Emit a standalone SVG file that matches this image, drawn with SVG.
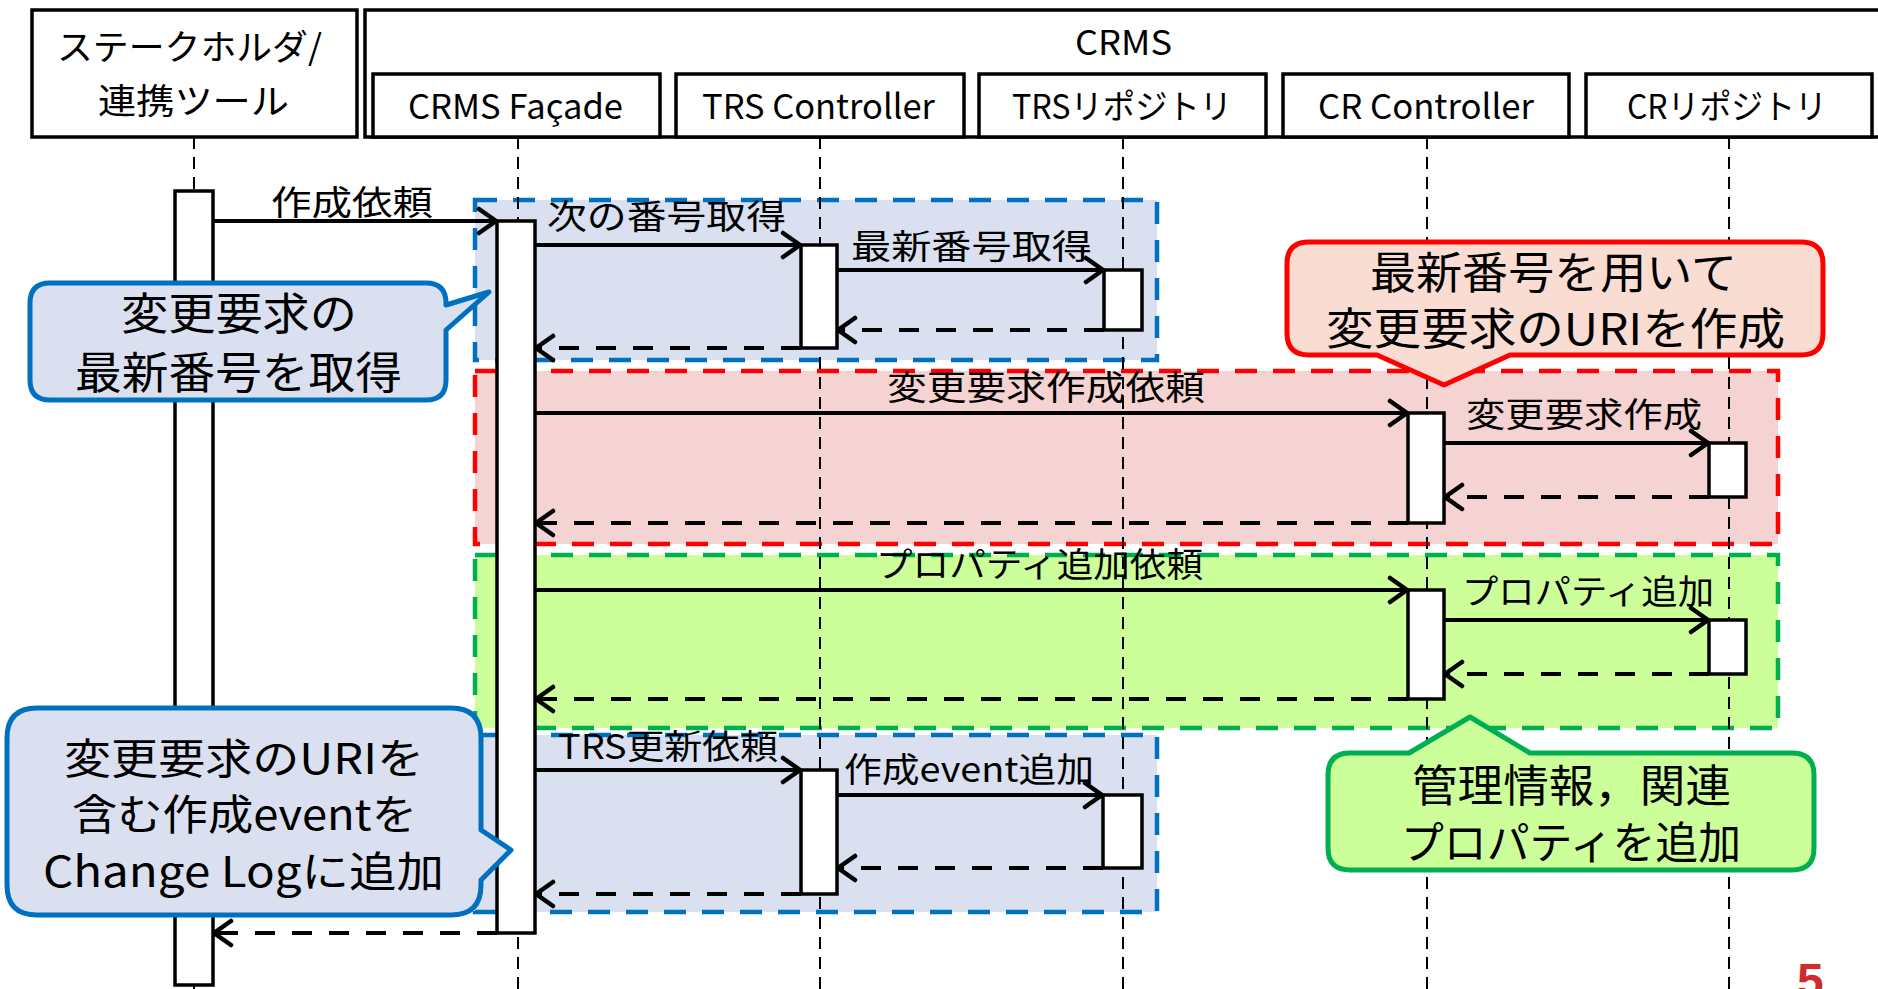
<svg xmlns="http://www.w3.org/2000/svg" width="1878" height="989" viewBox="0 0 1878 989">
  <defs>
    <style>
      text { font-family: "Noto Sans CJK JP", "Noto Sans", sans-serif; fill: #000; }
      .hdr { font-size: 34px; }
      .hdrj { font-size: 35px; }
      .msg { font-size: 34px; }
      .note { font-size: 44px; }
      .note2 { font-size: 42px; }
      .box { fill: #fff; stroke: #000; stroke-width: 3.5; }
      .act { fill: #fff; stroke: #000; stroke-width: 3.5; }
      .life { fill: none; stroke: #000; stroke-width: 2; stroke-dasharray: 12 8; }
      .call { fill: none; stroke: #000; stroke-width: 4; marker-end: url(#head); }
      .ret { fill: none; stroke: #000; stroke-width: 4; stroke-dasharray: 20 17; marker-end: url(#head); }
      .frag-blue { fill: #DAE0F0; stroke: #0070C0; stroke-width: 4.5; stroke-dasharray: 22 16; }
      .frag-red { fill: #F5D3D3; stroke: #FF0000; stroke-width: 4.5; stroke-dasharray: 22 16; }
      .frag-green { fill: #CCFF99; stroke: #00B050; stroke-width: 4.5; stroke-dasharray: 22 16; }
      .note-blue { fill: #DAE0F0; stroke: #0070C0; stroke-width: 5; stroke-linejoin: round; }
      .note-red { fill: #F9DCD2; stroke: #FF0000; stroke-width: 5; stroke-linejoin: round; }
      .note-green { fill: #CCFF99; stroke: #00B050; stroke-width: 5; stroke-linejoin: round; }
    </style>
    <marker id="head" viewBox="-22 -15 26 30" refX="1" refY="0" markerWidth="26" markerHeight="30" markerUnits="userSpaceOnUse" orient="auto">
      <path d="M-17,-12 L0,0 L-17,12" fill="none" stroke="#000" stroke-width="4.5" stroke-linecap="round" stroke-linejoin="miter"/>
    </marker>
  </defs>

  <rect width="1878" height="989" fill="#fff"/>

  <!-- combined fragments -->
  <g id="fragments">
    <rect id="frag-latest-number" class="frag-blue" x="475" y="200" width="682" height="160"/>
    <rect id="frag-create-request" class="frag-red" x="475" y="371" width="1303" height="173"/>
    <rect id="frag-add-property" class="frag-green" x="475" y="555" width="1303" height="173"/>
    <rect id="frag-trs-update" class="frag-blue" x="475" y="735" width="682" height="177"/>
  </g>

  <!-- participants -->
  <g id="stakeholder">
    <rect class="box" x="32" y="10" width="325" height="127"/>
    <text class="hdrj" x="57" y="60" textLength="265" lengthAdjust="spacingAndGlyphs">ステークホルダ/</text>
    <text class="hdrj" x="98" y="114" textLength="191" lengthAdjust="spacingAndGlyphs">連携ツール</text>
  </g>
  <g id="crms">
    <rect class="box" x="365" y="10" width="1520" height="127"/>
    <text class="hdr" x="1075" y="55" textLength="97" lengthAdjust="spacingAndGlyphs">CRMS</text>
  </g>
  <g id="crms-facade">
    <rect class="box" x="373" y="74" width="287" height="63"/>
    <text class="hdr" x="408" y="119" textLength="215" lengthAdjust="spacingAndGlyphs">CRMS Façade</text>
  </g>
  <g id="trs-controller">
    <rect class="box" x="676" y="74" width="288" height="63"/>
    <text class="hdr" x="702" y="119" textLength="233" lengthAdjust="spacingAndGlyphs">TRS Controller</text>
  </g>
  <g id="trs-repository">
    <rect class="box" x="979" y="74" width="287" height="63"/>
    <text class="hdr" x="1012" y="119" textLength="220" lengthAdjust="spacingAndGlyphs">TRSリポジトリ</text>
  </g>
  <g id="cr-controller">
    <rect class="box" x="1283" y="74" width="286" height="63"/>
    <text class="hdr" x="1318" y="119" textLength="216" lengthAdjust="spacingAndGlyphs">CR Controller</text>
  </g>
  <g id="cr-repository">
    <rect class="box" x="1586" y="74" width="286" height="63"/>
    <text class="hdr" x="1627" y="119" textLength="200" lengthAdjust="spacingAndGlyphs">CRリポジトリ</text>
  </g>

  <!-- lifelines and messages -->
  <g id="connectors">
    <path class="life" d="M194,137 V989"/>
    <path class="life" d="M518,137 V989"/>
    <path class="life" d="M820,137 V989"/>
    <path class="life" d="M1123,137 V989"/>
    <path class="life" d="M1427,137 V989"/>
    <path class="life" d="M1729,137 V989"/>

    <path class="call" d="M213,221 H497"/>
    <path class="call" d="M535,245 H801"/>
    <path class="call" d="M837,270 H1104"/>
    <path class="ret" d="M1104,330 H837"/>
    <path class="ret" d="M801,348 H535"/>

    <path class="call" d="M535,413 H1408"/>
    <path class="call" d="M1444,443 H1709"/>
    <path class="ret" d="M1709,497 H1444"/>
    <path class="ret" d="M1408,523 H535"/>

    <path class="call" d="M535,590 H1408"/>
    <path class="call" d="M1444,620 H1709"/>
    <path class="ret" d="M1709,674 H1444"/>
    <path class="ret" d="M1408,699 H535"/>

    <path class="call" d="M535,770 H801"/>
    <path class="call" d="M837,795 H1103"/>
    <path class="ret" d="M1103,868 H837"/>
    <path class="ret" d="M801,894 H535"/>

    <path class="ret" d="M497,933 H213"/>

    <text class="msg" x="271" y="215" textLength="162" lengthAdjust="spacingAndGlyphs">作成依頼</text>
    <text class="msg" x="547" y="229" textLength="239" lengthAdjust="spacingAndGlyphs">次の番号取得</text>
    <text class="msg" x="851" y="259" textLength="241" lengthAdjust="spacingAndGlyphs">最新番号取得</text>
    <text class="msg" x="887" y="400" textLength="318" lengthAdjust="spacingAndGlyphs">変更要求作成依頼</text>
    <text class="msg" x="1466" y="427" textLength="236" lengthAdjust="spacingAndGlyphs">変更要求作成</text>
    <text class="msg" x="876" y="577" textLength="327" lengthAdjust="spacingAndGlyphs">プロパティ追加依頼</text>
    <text class="msg" x="1462" y="604" textLength="252" lengthAdjust="spacingAndGlyphs">プロパティ追加</text>
    <text class="msg" x="558" y="759" textLength="220" lengthAdjust="spacingAndGlyphs">TRS更新依頼</text>
    <text class="msg" x="844" y="782" textLength="250" lengthAdjust="spacingAndGlyphs">作成event追加</text>
  </g>

  <!-- activation bars -->
  <g id="activations">
    <rect class="act" x="175" y="191" width="38" height="794"/>
    <rect class="act" x="497" y="221" width="38" height="712"/>
    <rect class="act" x="801" y="245" width="36" height="103"/>
    <rect class="act" x="1104" y="270" width="38" height="60"/>
    <rect class="act" x="1408" y="413" width="36" height="110"/>
    <rect class="act" x="1709" y="443" width="37" height="54"/>
    <rect class="act" x="1408" y="590" width="36" height="109"/>
    <rect class="act" x="1709" y="620" width="37" height="54"/>
    <rect class="act" x="801" y="770" width="36" height="124"/>
    <rect class="act" x="1103" y="795" width="39" height="73"/>
  </g>

  <!-- callouts -->
  <g id="note-latest-number">
    <path class="note-blue" d="M50,283 H426 Q446,283 446,303 V305 L489,292 L446,330 V380 Q446,400 426,400 H50 Q30,400 30,380 V303 Q30,283 50,283 Z"/>
    <text class="note" x="121" y="330" textLength="236" lengthAdjust="spacingAndGlyphs">変更要求の</text>
    <text class="note" x="75" y="389" textLength="327" lengthAdjust="spacingAndGlyphs">最新番号を取得</text>
  </g>
  <g id="note-create-uri">
    <path class="note-red" d="M1309,242 H1801 Q1823,242 1823,264 V333 Q1823,355 1801,355 H1510 L1444,385 L1377,355 H1309 Q1287,355 1287,333 V264 Q1287,242 1309,242 Z"/>
    <text class="note" x="1370" y="289" textLength="367" lengthAdjust="spacingAndGlyphs">最新番号を用いて</text>
    <text class="note" x="1326" y="345" textLength="459" lengthAdjust="spacingAndGlyphs">変更要求のURIを作成</text>
  </g>
  <g id="note-add-property">
    <path class="note-green" d="M1350,753 H1409 L1470,717 L1530,753 H1792 Q1814,753 1814,775 V848 Q1814,870 1792,870 H1350 Q1328,870 1328,848 V775 Q1328,753 1350,753 Z"/>
    <text class="note" x="1412" y="802" textLength="319" lengthAdjust="spacingAndGlyphs">管理情報，関連</text>
    <text class="note" x="1401" y="859" textLength="340" lengthAdjust="spacingAndGlyphs">プロパティを追加</text>
  </g>
  <g id="note-change-log">
    <path class="note-blue" d="M37,708 H451 Q481,708 481,738 V830 L511,850 L481,880 V885 Q481,915 451,915 H37 Q7,915 7,885 V738 Q7,708 37,708 Z"/>
    <text class="note2" x="64" y="774" textLength="360" lengthAdjust="spacingAndGlyphs">変更要求のURIを</text>
    <text class="note2" x="72" y="830" textLength="345" lengthAdjust="spacingAndGlyphs">含む作成eventを</text>
    <text class="note2" x="43" y="887" textLength="401" lengthAdjust="spacingAndGlyphs">Change Logに追加</text>
  </g>

  <text id="page-number" x="1797" y="997" style="font-family: 'Liberation Sans', sans-serif; font-size: 48px; font-weight: bold; fill: #D02C2C;">5</text>
</svg>
